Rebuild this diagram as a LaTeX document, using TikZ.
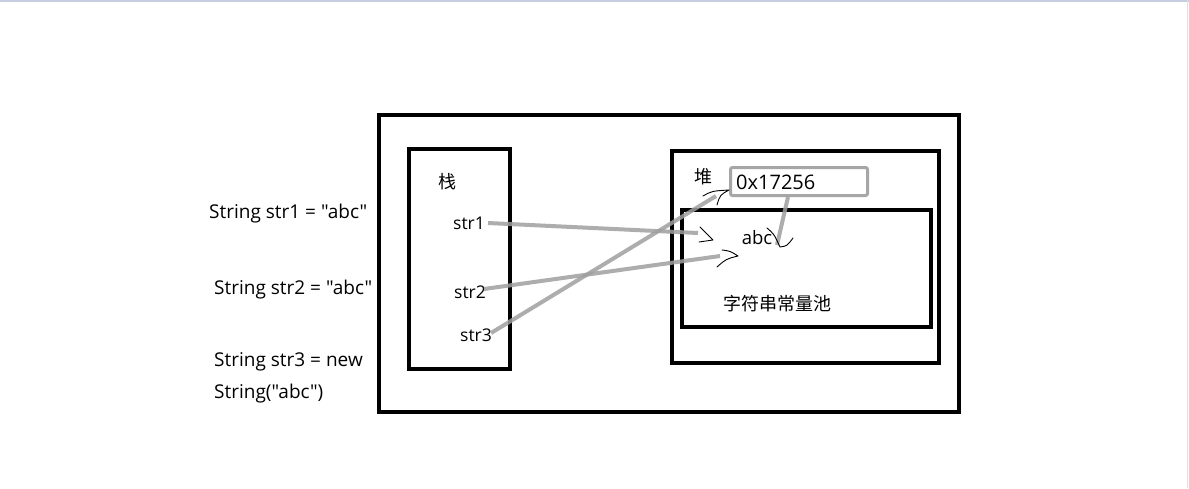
\documentclass[tikz,border=0pt]{standalone}
\usepackage{fontspec}
\setmainfont{Open Sans}[Ligatures=TeXOff]
\newfontfamily\cjk{Noto Sans CJK SC}
\begin{document}
\begin{tikzpicture}[x=1pt,y=-1pt,
  box/.style={draw=black,line width=4pt,fill=none,inner sep=0pt},
  lbl/.style={inner sep=0pt,font=\fontsize{17.5}{20}\selectfont},
  code/.style={inner sep=0pt,anchor=west,font=\fontsize{19}{21}\selectfont},
  zh/.style={inner sep=0pt,font=\cjk\fontsize{18}{20}\selectfont},
  ref/.style={draw=gray!75,line width=4pt,opacity=0.85},
  tip/.style={draw=black,line width=0.9pt,line cap=round,line join=round}]
\useasboundingbox (0,0) rectangle (1189,488);
\fill[white] (0,0) rectangle (1189,488);
\draw[color={rgb,255:red,197;green,207;blue,224},line width=2pt] (0,1) -- (1189,1);
\draw[color=gray!25,line width=1.5pt] (1187.5,0) -- (1187.5,488);
% boxes
\node[box,minimum width=580pt,minimum height=297pt,anchor=center] (outer) at (669,263.5) {};
\node[box,minimum width=101pt,minimum height=220pt,anchor=center] (stack) at (459.5,259) {};
\node[box,minimum width=267pt,minimum height=212pt,anchor=center] (heap) at (805.5,257) {};
\node[box,minimum width=249pt,minimum height=117pt,anchor=center] (pool) at (806.5,268.5) {};
\node[draw=gray!70,line width=3pt,rounded corners=2pt,inner sep=0pt,minimum width=137pt,minimum height=28pt,anchor=center] (addr) at (799,181.5) {};
% labels
\node[zh] (zhan) at (447,182) {栈};
\node[lbl] (s1) at (469,223) {str1};
\node[lbl] (s2) at (470,292) {str2};
\node[lbl] (s3) at (476,335) {str3};
\node[zh] (dui) at (703,177) {堆};
\node[lbl,anchor=west,font=\fontsize{20}{22}\selectfont] (addrtxt) at (736,182) {0x17256};
\node[lbl,font=\fontsize{18.5}{20}\selectfont] (abc) at (757,238) {abc};
\node[zh] (pooltxt) at (777,304) {字符串常量池};
\node[code] (c1) at (209,214) {String str1 = "abc"};
\node[code] (c2) at (214,290) {String str2 = "abc"};
\node[code] (c3) at (214,362) {String str3 = new};
\node[code] (c4) at (214,394) {String("abc")};
% connector ends
\coordinate (e1) at (698,233);
\coordinate (e2) at (720,256);
\coordinate (e3) at (716,196);
\coordinate (e4) at (777,245);
\draw[ref] (s1.east)++(3,0) -- (e1);
\draw[ref] (s2.east)++(-2,-3) -- (e2);
\draw[ref] (s3.east)++(-1,-2) -- (e3);
\draw[ref] (addr.south)++(-11,0) -- (e4);
% hand-drawn arrowheads
\draw[tip] (700,227) -- (713,240) -- (699,242);
\draw[tip] (722,250) .. controls (730,251) .. (738,256) .. controls (726,259) .. (717,267);
\draw[tip] (703,196) .. controls (712,191) .. (729,190) .. controls (720,195) .. (717,205);
\draw[tip] (767,228) .. controls (774,234) .. (780,247) .. controls (787,246) .. (793,238);
\end{tikzpicture}
\end{document}
